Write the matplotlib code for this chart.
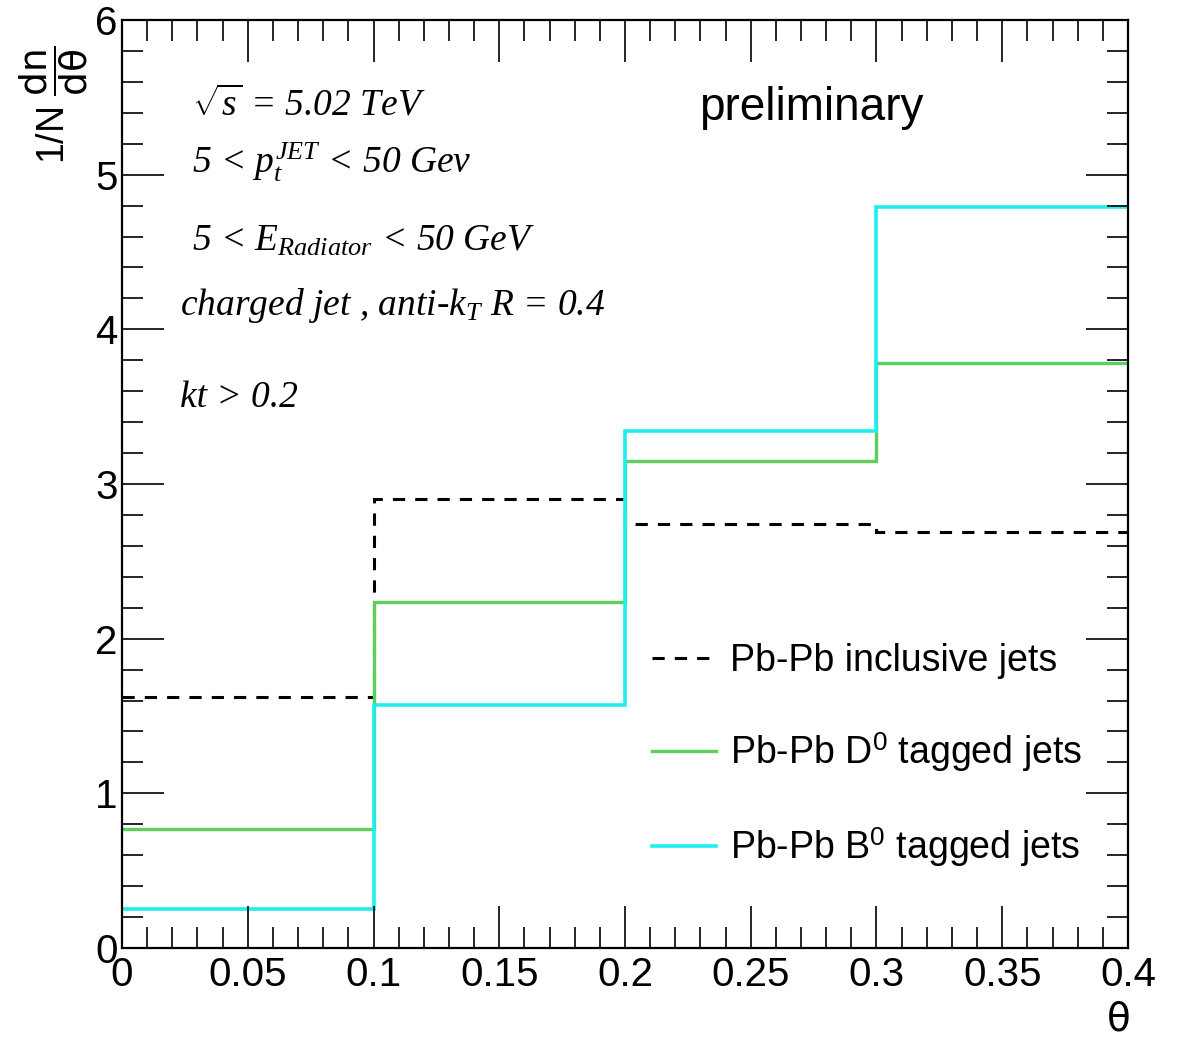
import matplotlib
matplotlib.use('Agg')
import matplotlib.pyplot as plt
import numpy as np
from matplotlib.ticker import MultipleLocator, FuncFormatter

plt.rcParams['font.family'] = 'Liberation Sans'
plt.rcParams['mathtext.fontset'] = 'custom'
plt.rcParams['mathtext.rm'] = 'Liberation Serif:italic'
plt.rcParams['mathtext.it'] = 'Liberation Serif:italic'
plt.rcParams['mathtext.bf'] = 'Liberation Serif:bold'
plt.rcParams['mathtext.sf'] = 'Liberation Sans'

# bin edges in theta and the three histograms
edges = [0.0, 0.1, 0.2, 0.3, 0.4]
incl_pbpb = [1.62, 2.90, 2.74, 2.69]
d0_pbpb = [0.77, 2.24, 3.15, 3.78]
b0_pbpb = [0.25, 1.57, 3.34, 4.79]

labels = ['Pb-Pb inclusive jets', r'Pb-Pb D$^{\mathsf{0}}$ tagged jets', r'Pb-Pb B$^{\mathsf{0}}$ tagged jets']

fig = plt.figure(figsize=(11.79, 10.37), dpi=100)
ax = fig.add_axes([0.1035, 0.0858, 0.8532, 0.8949])

ax.stairs(incl_pbpb, edges, color='black', lw=2.2, linestyle=(0, (4, 3.3)), baseline=None, label=labels[0])
ax.stairs(d0_pbpb, edges, color='#5ccf5c', lw=2.4, baseline=None, label=labels[1])
ax.stairs(b0_pbpb, edges, color='#1eeeee', lw=2.6, baseline=None, label=labels[2])

ax.set_xlim(0, 0.4)
ax.set_ylim(0, 6)
ax.xaxis.set_major_locator(MultipleLocator(0.05))
ax.xaxis.set_minor_locator(MultipleLocator(0.01))
ax.yaxis.set_major_locator(MultipleLocator(1))
ax.yaxis.set_minor_locator(MultipleLocator(0.2))
ax.xaxis.set_major_formatter(FuncFormatter(lambda v, p: '%g' % round(v, 3)))
ax.yaxis.set_major_formatter(FuncFormatter(lambda v, p: '%g' % round(v, 3)))
ax.tick_params(which='both', direction='in', top=True, right=True, width=1.2)
ax.tick_params(which='major', length=30, labelsize=29)
ax.tick_params(axis='x', which='major', pad=6)
ax.tick_params(axis='y', which='major', pad=3)
ax.tick_params(which='minor', length=15)
for s in ax.spines.values():
    s.set_linewidth(1.6)

ax.text(0.99, -0.078, r'$\mathsf{\theta}$', transform=ax.transAxes, fontsize=28, ha='center', va='center',
        math_fontfamily='dejavusans')
ax.text(-0.068, 0.972, r'1/N $\dfrac{\mathsf{dn}}{\mathsf{d\theta}}$', transform=ax.transAxes, fontsize=27,
        rotation=90, ha='center', va='top', math_fontfamily='dejavusans')

ax.text(0.574, 0.905, 'preliminary', transform=ax.transAxes, fontsize=33, ha='left', va='center')

fs = 27
tkw = dict(transform=ax.transAxes, fontsize=fs, va='center', family='Liberation Serif', style='italic')
ax.text(0.07, 0.908, r'$\sqrt{s}$ = 5.02 TeV', **tkw)
ax.text(0.07, 0.846, r'5 < $p_{t}^{JET}$ < 50 Gev', **tkw)
ax.text(0.07, 0.762, r'5 < $E_{Radiator}$ < 50 GeV', **tkw)
ax.text(0.058, 0.692, r'charged jet , anti-$k_{T}$ R = 0.4', **tkw)
ax.text(0.058, 0.593, 'kt > 0.2', **tkw)

leg = ax.legend(loc='upper left', bbox_to_anchor=(0.512, 0.345), frameon=False, fontsize=27,
                handlelength=1.7, handletextpad=0.37, labelspacing=1.38, borderaxespad=0)

fig.savefig('out.png', dpi=100)
